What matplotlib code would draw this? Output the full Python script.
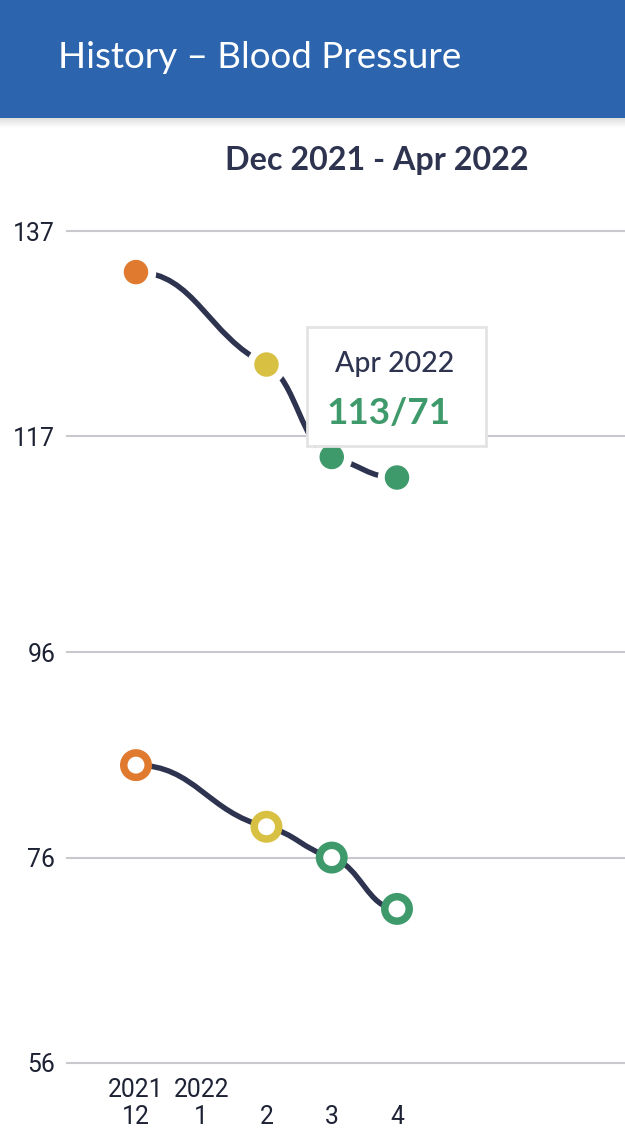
import numpy as np
import matplotlib
matplotlib.use('Agg')
import matplotlib.pyplot as plt
from matplotlib.path import Path
from matplotlib.patches import PathPatch, Rectangle

# Data
meses_pos = [0, 2, 3, 4]             # Dec 2021, Feb, Mar, Apr 2022 (Jan has no reading)
sistolica = [133, 124, 115, 113]
diastolica = [85, 79, 76, 71]
cores_pontos = ['#e07a2e', '#d8c043', '#3f9a6b', '#3f9a6b']
tick_pos = [0, 1, 2, 3, 4]
tick_labels = ['2021\n12', '2022\n1', '\n2', '\n3', '\n4']
y_ticks = [56, 76, 96, 117, 137]
titulo = 'Dec 2021 - Apr 2022'
tooltip_mes = 'Apr 2022'

AZUL = '#2c65ae'
NAVY = '#2e3450'
TEXTO = '#1e2235'
VERDE = '#3f9a6b'

W, H = 625, 1138
fig = plt.figure(figsize=(W / 100, H / 100), dpi=100)


def fx(x):
    return x / W


def fy(y):
    return 1 - y / H


def curva(xs, ys, k=0.45, damp=0.5):
    # smooth bezier line through the points (flat-ish tangents)
    xs = np.asarray(xs, float)
    ys = np.asarray(ys, float)
    n = len(xs)
    s = np.diff(ys) / np.diff(xs)
    m = np.zeros(n)
    for i in range(1, n - 1):
        if s[i - 1] * s[i] > 0:
            m[i] = damp * 2 * s[i - 1] * s[i] / (s[i - 1] + s[i])
    verts = [(xs[0], ys[0])]
    codes = [Path.MOVETO]
    for i in range(n - 1):
        h = xs[i + 1] - xs[i]
        verts += [(xs[i] + k * h, ys[i] + m[i] * k * h),
                  (xs[i + 1] - k * h, ys[i + 1] - m[i + 1] * k * h),
                  (xs[i + 1], ys[i + 1])]
        codes += [Path.CURVE4] * 3
    return Path(verts, codes)


# header bar
fig.patches.append(Rectangle((0, fy(118)), 1, 118 / H, transform=fig.transFigure,
                             facecolor=AZUL, edgecolor='none', zorder=0))
sombra = fig.add_axes([0, fy(128), 1, 10 / H])
sombra.imshow(np.linspace(0.86, 1.0, 20).reshape(-1, 1), cmap='gray', vmin=0, vmax=1,
              aspect='auto', extent=[0, 1, 0, 1])
sombra.axis('off')
fig.text(fx(58), fy(68), 'History \u2013 Blood Pressure', color='white',
         fontsize=26.5, family='Lato', va='baseline', ha='left')

fig.text(fx(377), fy(170), titulo, color=NAVY, fontsize=23.2, family='Lato',
         fontweight='bold', va='baseline', ha='center')

ax = fig.add_axes([fx(67), fy(1063), fx(625) - fx(67), fy(231) - fy(1063)])
ax.set_xlim(-1.057, 7.494)
ax.set_ylim(56, 137)

ax.add_patch(PathPatch(curva(meses_pos, sistolica), facecolor='none', edgecolor=NAVY,
                       lw=3.9, capstyle='round', zorder=2))
ax.add_patch(PathPatch(curva(meses_pos, diastolica), facecolor='none', edgecolor=NAVY,
                       lw=3.9, capstyle='round', zorder=2))

ax.scatter(meses_pos, sistolica, s=27.4 ** 2, c='white', zorder=3)
ax.scatter(meses_pos, sistolica, s=16.6 ** 2, c=cores_pontos, zorder=4)
ax.scatter(meses_pos, diastolica, s=17.6 ** 2, facecolors='white', edgecolors=cores_pontos,
           linewidths=5.4, zorder=4)

ax.set_yticks(y_ticks)
ax.set_xticks(tick_pos)
ax.set_xticklabels(tick_labels, family='Roboto', fontsize=17.8, color=TEXTO)
ax.set_yticklabels([str(v) for v in y_ticks], family='Roboto', fontsize=17.8, color=TEXTO)
ax.tick_params(length=0)
ax.tick_params(axis='y', pad=8.5)
ax.tick_params(axis='x', pad=10.5)
ax.grid(axis='y', color='#c9c9cd', lw=1.5)
ax.set_axisbelow(True)
for gl in ax.get_ygridlines():
    gl.set_clip_on(False)
for sp in ax.spines.values():
    sp.set_visible(False)

# tooltip
fig.patches.append(Rectangle((fx(307), fy(446)), (486 - 307) / W, (446 - 327) / H,
                             transform=fig.transFigure, facecolor='white',
                             edgecolor='#e3e3e3', lw=2, zorder=10))
fig.text(fx(395), fy(372), tooltip_mes, color=NAVY, fontsize=20.5, family='Lato',
         fontweight='medium', ha='center', va='baseline', zorder=11)
fig.text(fx(327), fy(424), f'{sistolica[-1]}/{diastolica[-1]}', color=VERDE, fontsize=26.5,
         family='Lato', fontweight='bold', ha='left', va='baseline', zorder=11)

fig.savefig('out.png', dpi=100, facecolor='white')
